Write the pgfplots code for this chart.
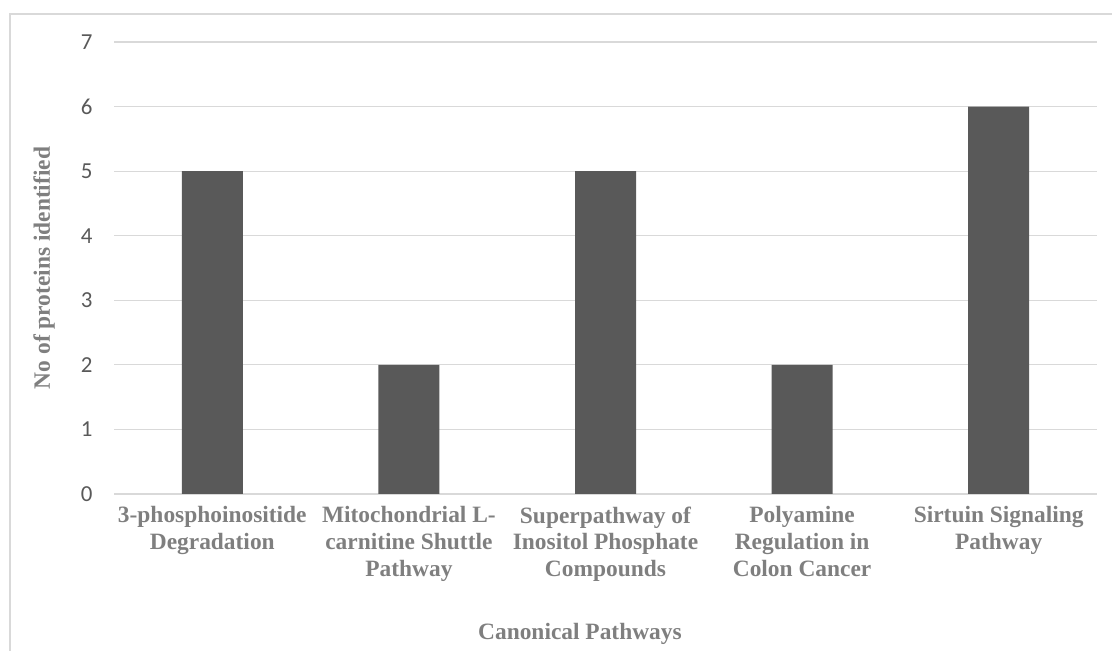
\documentclass[border=0pt]{standalone}
\usepackage{fontspec}
\setmainfont{Liberation Serif}
\newfontfamily\carlito{Carlito}
\usepackage{pgfplots}
\pgfplotsset{compat=1.18}
\definecolor{barc}{HTML}{595959}
\definecolor{gridc}{HTML}{D9D9D9}
\definecolor{tickc}{HTML}{595959}
\definecolor{labc}{HTML}{7F7F7F}
\begin{document}
\begin{tikzpicture}[x=1bp,y=1bp]
\useasboundingbox (0,0) rectangle (1112,651);
\draw[gridc, line width=1.5bp] (10,-5) -- (10,637) -- (1115,637);
\begin{axis}[
  at={(114bp,157bp)}, anchor=south west,
  scale only axis, width=983bp, height=452bp,
  xmin=-0.5, xmax=4.5, ymin=0, ymax=7,
  ytick={0,1,2,3,4,5,6,7},
  xtick={0,1,2,3,4},
  xticklabels={{3-phosphoinositide\\Degradation},{Mitochondrial L-\\carnitine Shuttle\\Pathway},{Superpathway of\\Inositol Phosphate\\Compounds},{Polyamine\\Regulation in\\Colon Cancer},{Sirtuin Signaling\\Pathway}},
  x tick label style={font=\bfseries\fontsize{23.5}{27}\selectfont, text=labc, align=center, yshift=-9bp},
  y tick label style={font=\carlito\fontsize{23}{27}\selectfont, text=tickc, xshift=-18bp},
  /pgf/number format/assume math mode=true,
  ymajorgrids, grid style={gridc, line width=1.2bp},
  separate axis lines,
  axis x line*=bottom, axis y line*=left,
  x axis line style={draw=gridc, line width=1.5bp, -},
  y axis line style={draw=none},
  major tick length=0pt,
  xlabel={Canonical Pathways},
  ylabel={No of proteins identified},
  xlabel style={font=\bfseries\fontsize{23.5}{27}\selectfont, text=labc, at={(axis description cs:0.474,-0.31)}, anchor=center},
  ylabel style={font=\bfseries\fontsize{23.5}{27}\selectfont, text=labc, at={(axis description cs:-0.0712,0.5)}, anchor=center},
  ybar, bar width=61bp,
]
\addplot[fill=barc, draw=none] coordinates {(0,5) (1,2) (2,5) (3,2) (4,6)};
\end{axis}
\end{tikzpicture}
\end{document}
